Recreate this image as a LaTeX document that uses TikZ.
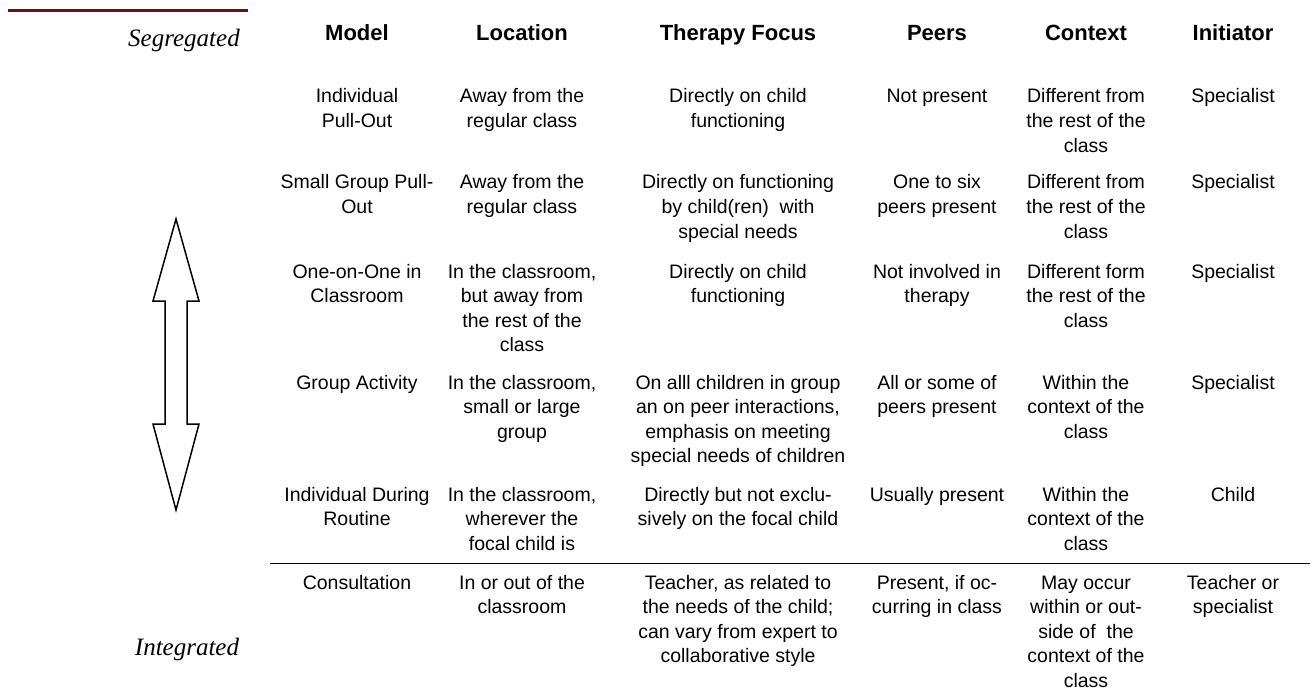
\documentclass[tikz,border=0pt]{standalone}
\usepackage{fontspec}
\setmainfont{Liberation Sans}
\newfontfamily\segfont{Liberation Serif}
\definecolor{ruleRed}{RGB}{112,14,20}
\newcommand{\mycell}[1]{\begin{tabular}[t]{@{}c@{}}#1\end{tabular}}
\begin{document}
\begin{tikzpicture}[x=1pt,y=-1pt,
 cell/.style={anchor=base, inner sep=0pt, font=\fontsize{19.5}{24.6}\selectfont},
 head/.style={anchor=base, inner sep=0pt, font=\fontsize{22}{26}\selectfont\bfseries},
 side/.style={anchor=base, inner sep=0pt, font=\fontsize{25}{30}\selectfont\segfont\itshape},
 bigarrow/.style={draw=black, line width=1.5pt, line join=miter, fill=white}]
\useasboundingbox (0,0) rectangle (1315,690);

% top maroon rule
\coordinate (topL) at (8,11);
\coordinate (topR) at (248,11);
\draw[ruleRed, line width=3pt] (topL) -- (topR);

% side labels
\node[side] (seg) at (184,47) {Segregated};
\node[side] (int) at (187,655) {Integrated};

% double arrow
\draw[bigarrow] (176,219) -- (199,301) -- (187,301) -- (187,424) -- (199,424)
  -- (176,510) -- (153,424) -- (165,424) -- (165,301) -- (153,301) -- cycle;

% headers
\node[head] (hM) at (357,41) {Model};
\node[head] (hL) at (522,41) {Location};
\node[head] (hF) at (738,41) {Therapy Focus};
\node[head] (hP) at (937,41) {Peers};
\node[head] (hC) at (1086,41) {Context};
\node[head] (hI) at (1233,41) {Initiator};

% row 1
\node[cell] (m1) at (357,103) {\mycell{Individual\\Pull-Out}};
\node[cell] (l1) at (522,103) {\mycell{Away from the\\regular class}};
\node[cell] (f1) at (738,103) {\mycell{Directly on child\\functioning}};
\node[cell] (p1) at (937,103) {\mycell{Not present}};
\node[cell] (c1) at (1086,103) {\mycell{Different from\\the rest of the\\class}};
\node[cell] (i1) at (1233,103) {\mycell{Specialist}};

% row 2
\node[cell] (m2) at (357,189) {\mycell{Small Group Pull-\\Out}};
\node[cell] (l2) at (522,189) {\mycell{Away from the\\regular class}};
\node[cell] (f2) at (738,189) {\mycell{Directly on functioning\\by child(ren)\ \ with\\special needs}};
\node[cell] (p2) at (937,189) {\mycell{One to six\\peers present}};
\node[cell] (c2) at (1086,189) {\mycell{Different from\\the rest of the\\class}};
\node[cell] (i2) at (1233,189) {\mycell{Specialist}};

% row 3
\node[cell] (m3) at (357,278) {\mycell{One-on-One in\\Classroom}};
\node[cell] (l3) at (522,278) {\mycell{In the classroom,\\but away from\\the rest of the\\class}};
\node[cell] (f3) at (738,278) {\mycell{Directly on child\\functioning}};
\node[cell] (p3) at (937,278) {\mycell{Not involved in\\therapy}};
\node[cell] (c3) at (1086,278) {\mycell{Different form\\the rest of the\\class}};
\node[cell] (i3) at (1233,278) {\mycell{Specialist}};

% row 4
\node[cell] (m4) at (357,389) {\mycell{Group Activity}};
\node[cell] (l4) at (522,389) {\mycell{In the classroom,\\small or large\\group}};
\node[cell] (f4) at (738,389) {\mycell{On alll children in group\\an on peer interactions,\\emphasis on meeting\\special needs of children}};
\node[cell] (p4) at (937,389) {\mycell{All or some of\\peers present}};
\node[cell] (c4) at (1086,389) {\mycell{Within the\\context of the\\class}};
\node[cell] (i4) at (1233,389) {\mycell{Specialist}};

% row 5
\node[cell] (m5) at (357,501) {\mycell{Individual During\\Routine}};
\node[cell] (l5) at (522,501) {\mycell{In the classroom,\\wherever the\\focal child is}};
\node[cell] (f5) at (738,501) {\mycell{Directly but not exclu-\\sively on the focal child}};
\node[cell] (p5) at (937,501) {\mycell{Usually present}};
\node[cell] (c5) at (1086,501) {\mycell{Within the\\context of the\\class}};
\node[cell] (i5) at (1233,501) {\mycell{Child}};

% separator rule
\coordinate (sepL) at (270,563);
\coordinate (sepR) at (1310,563);
\draw[line width=0.9pt] (sepL) -- (sepR);

% row 6
\node[cell] (m6) at (357,589) {\mycell{Consultation}};
\node[cell] (l6) at (522,589) {\mycell{In or out of the\\classroom}};
\node[cell] (f6) at (738,589) {\mycell{Teacher, as related to\\the needs of the child;\\can vary from expert to\\collaborative style}};
\node[cell] (p6) at (937,589) {\mycell{Present, if oc-\\curring in class}};
\node[cell] (c6) at (1086,589) {\mycell{May occur\\within or out-\\side of\ \ the\\context of the\\class}};
\node[cell] (i6) at (1233,589) {\mycell{Teacher or\\specialist}};
\end{tikzpicture}
\end{document}
